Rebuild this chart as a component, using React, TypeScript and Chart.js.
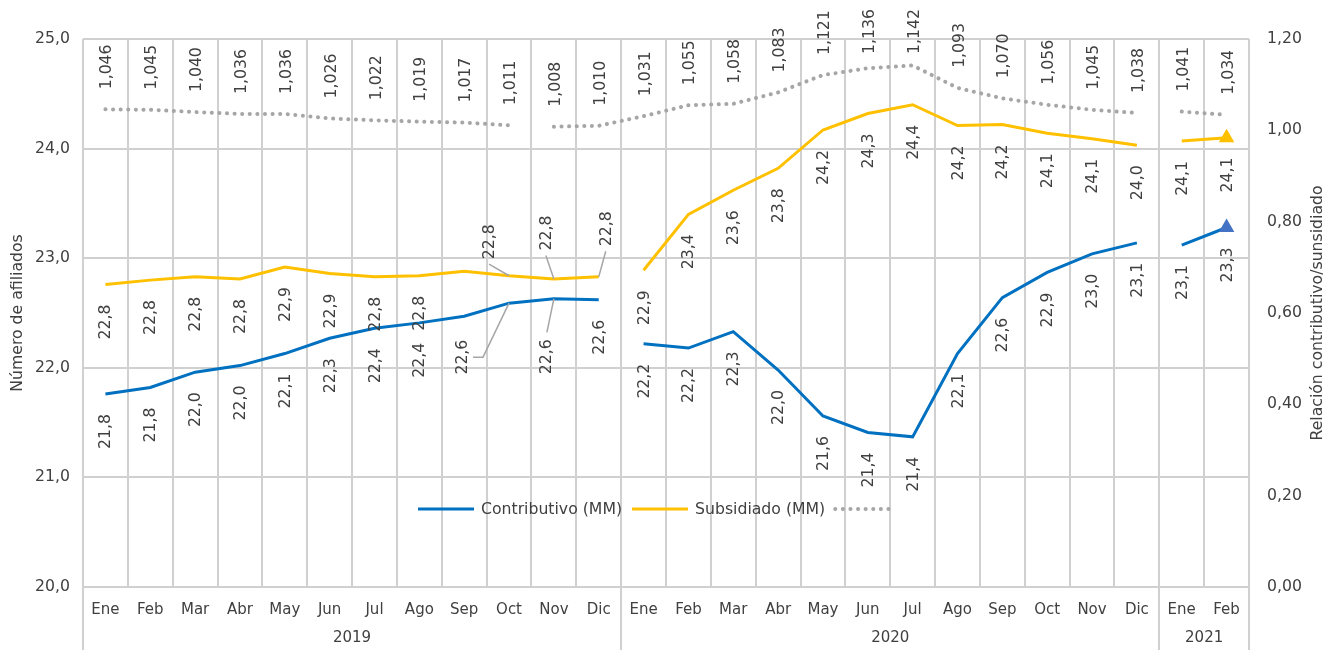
import { useEffect, useRef } from 'react';
import { Chart, registerables } from 'chart.js';

Chart.register(...registerables);

const months = ['Ene', 'Feb', 'Mar', 'Abr', 'May', 'Jun', 'Jul', 'Ago', 'Sep', 'Oct', 'Nov', 'Dic',
  'Ene', 'Feb', 'Mar', 'Abr', 'May', 'Jun', 'Jul', 'Ago', 'Sep', 'Oct', 'Nov', 'Dic',
  'Ene', 'Feb'];
const years = ['2019', '2020', '2021'];
const monthsPerYear = [12, 12, 2];

const contributivo = [21.76, 21.82, 21.96, 22.02, 22.13, 22.27, 22.36, 22.41, 22.47, 22.59, 22.63, 22.62,
  22.22, 22.18, 22.33, 21.98, 21.56, 21.41, 21.37, 22.13, 22.64, 22.87, 23.04, 23.14,
  23.12, 23.28];
const subsidiado = [22.76, 22.80, 22.83, 22.81, 22.92, 22.86, 22.83, 22.84, 22.88, 22.84, 22.81, 22.83,
  22.89, 23.40, 23.62, 23.82, 24.17, 24.32, 24.40, 24.21, 24.22, 24.14, 24.09, 24.03,
  24.07, 24.10];
const relacion = [1.046, 1.045, 1.040, 1.036, 1.036, 1.026, 1.022, 1.019, 1.017, 1.011, 1.008, 1.010,
  1.031, 1.055, 1.058, 1.083, 1.121, 1.136, 1.142, 1.093, 1.070, 1.056, 1.045, 1.038,
  1.041, 1.034];

// index after which the line is interrupted
const lineBreaks = [11, 23];
const relacionBreaks = [9, 23];
// months whose afiliados labels are not shown
const hiddenLabels = [8];

const leftTitle = 'Número de afiliados';
const rightTitle = 'Relación contributivo/sunsidiado';
const legendItems = ['Contributivo (MM)', 'Subsidiado (MM)', ''];

const BLUE = '#0070C0';
const YELLOW = '#FFC000';
const GRAY = '#A6A6A6';
const GRID = '#D0D0D0';
const TEXT = '#404040';
const FONT = '"DejaVu Sans", Verdana, sans-serif';
const FS = 15.7;

// manually dragged labels (offset of label centre from its point)
const movedLabels = [
  { dataset: 0, index: 9, dx: -46, dy: 54, leader: 'elbow' },
  { dataset: 0, index: 10, dx: -7, dy: 58, leader: 'straight' },
  { dataset: 1, index: 9, dx: -19, dy: -34, leader: 'straight' },
  { dataset: 1, index: 10, dx: -7, dy: -46, leader: 'straight' },
  { dataset: 1, index: 11, dx: 8, dy: -48, leader: 'straight' },
];

const fmt = (v: number, d: number) => v.toFixed(d).replace('.', ',');

function drawRotated(ctx: CanvasRenderingContext2D, text: string, cx: number, cy: number) {
  ctx.save();
  ctx.translate(cx, cy);
  ctx.rotate(-Math.PI / 2);
  ctx.textAlign = 'center';
  ctx.textBaseline = 'middle';
  ctx.fillText(text, 0, 0);
  ctx.restore();
}

const textPlugin = {
  id: 'textPlugin',
  afterDatasetsDraw(chart: any) {
    const ctx: CanvasRenderingContext2D = chart.ctx;
    const a = chart.chartArea;
    const colW = (a.right - a.left) / months.length;
    ctx.save();

    // category group separators extending through the label area
    ctx.strokeStyle = GRID;
    ctx.lineWidth = 2;
    const bounds = [0];
    let acc = 0;
    monthsPerYear.forEach((n) => { acc += n; bounds.push(acc); });
    bounds.forEach((b) => {
      const x = Math.round(a.left + b * colW);
      ctx.beginPath();
      ctx.moveTo(x, a.bottom);
      ctx.lineTo(x, chart.height);
      ctx.stroke();
    });

    // year labels
    ctx.fillStyle = TEXT;
    ctx.font = `15px ${FONT}`;
    ctx.textAlign = 'center';
    ctx.textBaseline = 'middle';
    let start = 0;
    years.forEach((y, i) => {
      const n = monthsPerYear[i];
      ctx.fillText(y, a.left + (start + n / 2) * colW, a.bottom + 51);
      start += n;
    });

    // data labels
    ctx.font = `${FS}px ${FONT}`;
    chart.data.datasets.forEach((ds: any, di: number) => {
      const meta = chart.getDatasetMeta(di);
      meta.data.forEach((pt: any, i: number) => {
        if (di < 2 && hiddenLabels.includes(i)) return;
        const v = ds.data[i] as number;
        const text = di === 2 ? fmt(v, 3) : fmt(v, 1);
        const L = ctx.measureText(text).width;
        const mv = movedLabels.find((m) => m.dataset === di && m.index === i);
        let cx: number;
        let cy: number;
        if (mv) {
          cx = pt.x + mv.dx;
          cy = pt.y + mv.dy;
          ctx.strokeStyle = GRAY;
          ctx.lineWidth = 1.5;
          ctx.beginPath();
          if (mv.leader === 'elbow') {
            ctx.moveTo(cx + 10, cy);
            ctx.lineTo(cx + 20, cy);
          } else if (mv.dy < 0) {
            ctx.moveTo(cx - 1, cy + L / 2 + 5);
          } else {
            ctx.moveTo(cx, cy - L / 2 - 7);
          }
          ctx.lineTo(pt.x, pt.y);
          ctx.stroke();
        } else if (di === 2) {
          cx = pt.x + 2;
          cy = Math.max(pt.y - 20 - L / 2, 9 + L / 2);
        } else {
          cx = pt.x + 1;
          cy = pt.y + 20 + L / 2;
        }
        ctx.fillStyle = TEXT;
        drawRotated(ctx, text, cx, cy);
      });
    });

    // legend
    const ly = 509;
    let lx = a.left + 335;
    const colors = [BLUE, YELLOW, GRAY];
    ctx.font = `${FS}px ${FONT}`;
    ctx.textAlign = 'left';
    ctx.textBaseline = 'middle';
    legendItems.forEach((t, i) => {
      ctx.save();
      ctx.strokeStyle = colors[i];
      if (i === 2) {
        ctx.lineWidth = 4;
        ctx.lineCap = 'round';
        ctx.setLineDash([0.1, 7.5]);
      } else {
        ctx.lineWidth = 3;
      }
      ctx.beginPath();
      ctx.moveTo(lx, ly);
      ctx.lineTo(lx + 56, ly);
      ctx.stroke();
      ctx.restore();
      lx += 63;
      if (t) {
        ctx.fillStyle = TEXT;
        ctx.fillText(t, lx, ly + 1);
        lx += ctx.measureText(t).width + 10;
      }
    });

    // axis titles
    ctx.fillStyle = TEXT;
    ctx.font = `${FS}px ${FONT}`;
    const midY = (a.top + a.bottom) / 2;
    drawRotated(ctx, leftTitle, a.left - 65, midY);
    drawRotated(ctx, rightTitle, a.right + 69, midY);

    ctx.restore();
  },
};

export default function App() {
  const canvasRef = useRef<HTMLCanvasElement | null>(null);

  useEffect(() => {
    if (!canvasRef.current) return;
    const seg = (color: string, breaks: number[]) => ({
      borderColor: (c: any) => (breaks.includes(c.p0DataIndex) ? 'rgba(0,0,0,0)' : color),
    });
    const chart = new Chart(canvasRef.current, {
      type: 'line',
      data: {
        labels: months,
        datasets: [
          {
            label: 'Contributivo (MM)',
            data: contributivo,
            yAxisID: 'y',
            borderColor: BLUE,
            borderWidth: 3,
            tension: 0,
            segment: seg(BLUE, lineBreaks),
            pointStyle: 'triangle',
            pointRadius: (c: any) => (c.dataIndex === contributivo.length - 1 ? 6 : 0),
            pointBackgroundColor: '#4472C4',
            pointBorderColor: '#4472C4',
          },
          {
            label: 'Subsidiado (MM)',
            data: subsidiado,
            yAxisID: 'y',
            borderColor: YELLOW,
            borderWidth: 3,
            tension: 0,
            segment: seg(YELLOW, lineBreaks),
            pointStyle: 'triangle',
            pointRadius: (c: any) => (c.dataIndex === subsidiado.length - 1 ? 6 : 0),
            pointBackgroundColor: YELLOW,
            pointBorderColor: YELLOW,
          },
          {
            label: 'Relación',
            data: relacion,
            yAxisID: 'y1',
            borderColor: GRAY,
            borderWidth: 4,
            borderDash: [0.1, 7.5],
            borderCapStyle: 'round',
            tension: 0,
            segment: seg(GRAY, relacionBreaks),
            pointRadius: 0,
          },
        ],
      } as any,
      options: {
        animation: false,
        responsive: true,
        maintainAspectRatio: false,
        layout: { padding: { top: 39, left: 0, right: 0, bottom: 0 } },
        plugins: { legend: { display: false }, tooltip: { enabled: false } },
        scales: {
          x: {
            offset: true,
            grid: { offset: true, color: GRID, lineWidth: 2, drawTicks: false },
            border: { display: false },
            ticks: {
              autoSkip: false,
              maxRotation: 0,
              padding: 14,
              color: TEXT,
              font: { family: FONT, size: 15 },
            },
            afterFit: (s: any) => { s.height = 63; },
          },
          y: {
            position: 'left',
            min: 20,
            max: 25,
            grid: { color: GRID, lineWidth: 2, drawTicks: false },
            border: { display: false },
            ticks: {
              stepSize: 1,
              padding: 13,
              color: TEXT,
              font: { family: FONT, size: FS },
              callback: (v: any) => fmt(Number(v), 1),
            },
            afterFit: (s: any) => { s.width = 83; },
          },
          y1: {
            position: 'right',
            min: 0,
            max: 1.2,
            grid: { display: false, drawTicks: false },
            border: { display: false },
            ticks: {
              stepSize: 0.2,
              padding: 18,
              color: TEXT,
              font: { family: FONT, size: FS },
              callback: (v: any) => fmt(Number(v), 2),
            },
            afterFit: (s: any) => { s.width = 88; },
          },
        },
      } as any,
      plugins: [textPlugin],
    });
    return () => chart.destroy();
  }, []);

  return (
    <div style={{ position: 'absolute', left: 0, top: 0, width: 1337, height: 650, background: '#fff' }}>
      <canvas ref={canvasRef} />
    </div>
  );
}
